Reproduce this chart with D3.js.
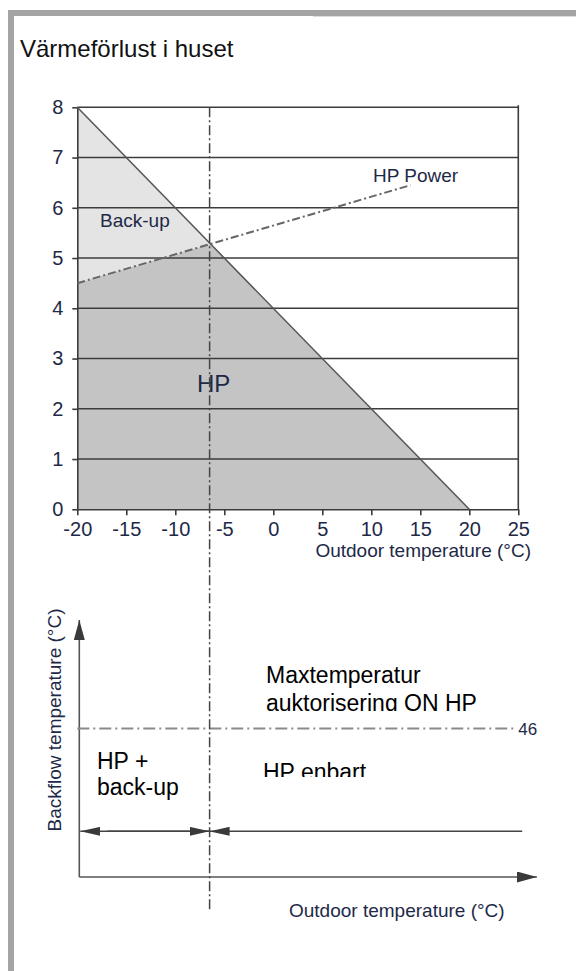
<!DOCTYPE html>
<html>
<head>
<meta charset="utf-8">
<script src="https://cdn.jsdelivr.net/npm/d3@7"></script>
<style>
  html, body { margin: 0; padding: 0; background: #fff; }
  svg { display: block; font-family: Arial, "Liberation Sans", sans-serif; }
</style>
</head>
<body>
<div id="chart"></div>
<script>
// Heat loss of the house vs outdoor temperature
const heatLoss = [{ t: -20, kw: 8 }, { t: 20, kw: 0 }];
const hpPower = [{ t: -20, kw: 4.5 }, { t: 14, kw: 6.45 }];
const balancePoint = -6.5;
const xTicks = [-20, -15, -10, -5, 0, 5, 10, 15, 20, 25];
const yTicks = [0, 1, 2, 3, 4, 5, 6, 7, 8];

// Lower diagram: backflow temperature limit
const maxBackflow = 46;
const spanRow = 28;          // backflow value where the span arrows sit
const lowerXEnd = 26.9;      // where the outdoor axis arrow ends
const spanEnd = 25.4;
const limitEnd = 24.7;

const W = 576, H = 971;
const INK = '#1e2947';
const LINE = '#3c3c3c';

const svg = d3.select('#chart').append('svg')
  .attr('width', W).attr('height', H).attr('viewBox', `0 0 ${W} ${H}`);
svg.append('rect').attr('width', W).attr('height', H).attr('fill', '#fff');

// frame
svg.append('rect').attr('x', 8).attr('y', 10).attr('width', W - 8).attr('height', 6).attr('fill', '#a4a4a4');
svg.append('rect').attr('x', 8).attr('y', 10).attr('width', 6).attr('height', H - 10).attr('fill', '#a4a4a4');
svg.append('rect').attr('x', 313).attr('y', 16).attr('width', W - 313).attr('height', 1).attr('fill', '#dcdcdc');

svg.append('text').attr('x', 20).attr('y', 57).attr('font-size', 24).attr('fill', '#111')
  .text('Värmeförlust i huset');

// ---------- upper chart ----------
const x = d3.scaleLinear().domain([-20, 25]).range([77.3, 518.3]);
const y = d3.scaleLinear().domain([0, 8]).range([509.3, 107.3]);

const lerp = (pts, t) => {
  const [a, b] = pts;
  return a.kw + (b.kw - a.kw) * (t - a.t) / (b.t - a.t);
};
// intersection of heat loss and HP power
const tCross = d3.range(-20, 20, 0.01).find(t => lerp(hpPower, t) >= lerp(heatLoss, t));
const kwCross = lerp(heatLoss, tCross);

const light = [[-20, heatLoss[0].kw], [tCross, kwCross], [-20, hpPower[0].kw]];
const dark = [[-20, 0], [-20, hpPower[0].kw], [tCross, kwCross], [heatLoss[1].t, heatLoss[1].kw]];
const poly = d3.line().x(d => x(d[0])).y(d => y(d[1]));
svg.append('path').attr('d', poly(light) + 'Z').attr('fill', '#e4e4e4');
svg.append('path').attr('d', poly(dark) + 'Z').attr('fill', '#c4c4c4');

// grid
svg.append('g').selectAll('line').data(yTicks.filter(v => v > 0)).join('line')
  .attr('x1', x(-20)).attr('x2', x(25)).attr('y1', d => y(d)).attr('y2', d => y(d))
  .attr('stroke', LINE).attr('stroke-width', 1.6);
svg.append('line').attr('x1', x(25)).attr('x2', x(25)).attr('y1', y(8) - 2).attr('y2', y(0))
  .attr('stroke', LINE).attr('stroke-width', 1.6);

const styleAxis = sel => {
  sel.select('.domain').attr('stroke', LINE).attr('stroke-width', 1.6);
  sel.selectAll('.tick line').attr('stroke', LINE).attr('stroke-width', 1.6);
  sel.selectAll('.tick text').attr('fill', INK).attr('font-size', 20)
    .attr('font-family', 'Arial, "Liberation Sans", sans-serif');
};
svg.append('g').attr('transform', `translate(${x(-20)},0)`)
  .call(d3.axisLeft(y).tickValues(yTicks).tickSizeInner(5).tickSizeOuter(0).tickPadding(9))
  .call(styleAxis);
svg.append('g').attr('transform', `translate(0,${y(0)})`)
  .call(d3.axisBottom(x).tickValues(xTicks).tickSizeInner(6).tickSizeOuter(0).tickPadding(7)
    .tickFormat(d => String(d)))
  .call(styleAxis);

// heat loss line
svg.append('path').datum(heatLoss)
  .attr('d', d3.line().x(d => x(d.t)).y(d => y(d.kw)))
  .attr('fill', 'none').attr('stroke', '#555').attr('stroke-width', 1.5);

// HP power
svg.append('path').datum(hpPower)
  .attr('d', d3.line().x(d => x(d.t)).y(d => y(d.kw)))
  .attr('fill', 'none').attr('stroke', '#666').attr('stroke-width', 2)
  .attr('stroke-dasharray', '8,3,2,3');

svg.append('text').attr('x', 373).attr('y', 182).attr('font-size', 19).attr('fill', INK).text('HP Power');
svg.append('text').attr('x', 100).attr('y', 227).attr('font-size', 19).attr('fill', INK).text('Back-up');
svg.append('text').attr('x', 197).attr('y', 392).attr('font-size', 24).attr('fill', INK).text('HP');
svg.append('text').attr('x', 531).attr('y', 557).attr('text-anchor', 'end').attr('font-size', 19)
  .attr('fill', INK).text('Outdoor temperature (°C)');

// ---------- lower diagram ----------
const yb = d3.scaleLinear().domain([20, 65]).range([877, 620]);
const defs = svg.append('defs');
const marker = (id, w, h) => defs.append('marker').attr('id', id)
  .attr('viewBox', `0 0 ${w} ${h}`).attr('refX', w).attr('refY', h / 2)
  .attr('markerWidth', w).attr('markerHeight', h).attr('markerUnits', 'userSpaceOnUse')
  .attr('orient', 'auto-start-reverse')
  .append('path').attr('d', `M0,0L${w},${h / 2}L0,${h}Z`).attr('fill', '#3a3a3a');
marker('axisArrow', 20, 11);
marker('spanArrow', 20, 9);

// axes
svg.append('line').attr('x1', x(-20) + 2).attr('x2', x(-20) + 2).attr('y1', yb(20)).attr('y2', yb(65))
  .attr('stroke', '#555').attr('stroke-width', 1.6).attr('marker-end', 'url(#axisArrow)');
svg.append('line').attr('x1', x(-20) + 2).attr('x2', x(lowerXEnd)).attr('y1', yb(20)).attr('y2', yb(20))
  .attr('stroke', '#555').attr('stroke-width', 1.6).attr('marker-end', 'url(#axisArrow)');

// 46 limit
svg.append('line').attr('x1', x(-20)).attr('x2', x(limitEnd))
  .attr('y1', yb(maxBackflow)).attr('y2', yb(maxBackflow))
  .attr('stroke', '#8a8a8a').attr('stroke-width', 2).attr('stroke-dasharray', '12,4,2,4');
svg.append('text').attr('x', x(limitEnd) + 3).attr('y', yb(maxBackflow) + 6).attr('font-size', 17)
  .attr('fill', INK).text(maxBackflow);

// span arrows
const rowY = yb(spanRow);
svg.append('line').attr('x1', x(balancePoint)).attr('x2', x(-20) + 3).attr('y1', rowY).attr('y2', rowY)
  .attr('stroke', '#444').attr('stroke-width', 1.6).attr('marker-end', 'url(#spanArrow)');
svg.append('line').attr('x1', x(-20) + 30).attr('x2', x(balancePoint)).attr('y1', rowY).attr('y2', rowY)
  .attr('stroke', '#444').attr('stroke-width', 1.6).attr('marker-end', 'url(#spanArrow)');
svg.append('line').attr('x1', x(spanEnd)).attr('x2', x(balancePoint)).attr('y1', rowY).attr('y2', rowY)
  .attr('stroke', '#444').attr('stroke-width', 1.6).attr('marker-end', 'url(#spanArrow)');

// balance point line across both panels
svg.append('line').attr('x1', x(balancePoint)).attr('x2', x(balancePoint))
  .attr('y1', y(8)).attr('y2', 911)
  .attr('stroke', '#444').attr('stroke-width', 1.5).attr('stroke-dasharray', '10,3,2,3');

// texts
const clip = (id, top, bottom) => defs.append('clipPath').attr('id', id)
  .append('rect').attr('x', 0).attr('y', top).attr('width', W).attr('height', bottom - top);
clip('clipAuk', 690, 711);
clip('clipEnb', 750, 777);

svg.append('text').attr('x', 266).attr('y', 683).attr('font-size', 23).attr('fill', '#000').text('Maxtemperatur');
svg.append('text').attr('x', 266).attr('y', 711).attr('font-size', 23).attr('fill', '#000')
  .attr('clip-path', 'url(#clipAuk)').text('auktorisering ON HP');
svg.append('text').attr('x', 263).attr('y', 780).attr('font-size', 23).attr('fill', '#000')
  .attr('clip-path', 'url(#clipEnb)').text('HP enbart');
svg.append('text').attr('x', 97).attr('y', 769).attr('font-size', 23).attr('fill', '#000').text('HP +');
svg.append('text').attr('x', 97).attr('y', 795).attr('font-size', 23).attr('fill', '#000').text('back-up');

svg.append('text').attr('transform', 'translate(61,720) rotate(-90)').attr('text-anchor', 'middle')
  .attr('font-size', 19).attr('fill', INK).text('Backflow temperature (°C)');
svg.append('text').attr('x', 289).attr('y', 917).attr('font-size', 19).attr('fill', INK)
  .text('Outdoor temperature (°C)');
</script>
</body>
</html>
